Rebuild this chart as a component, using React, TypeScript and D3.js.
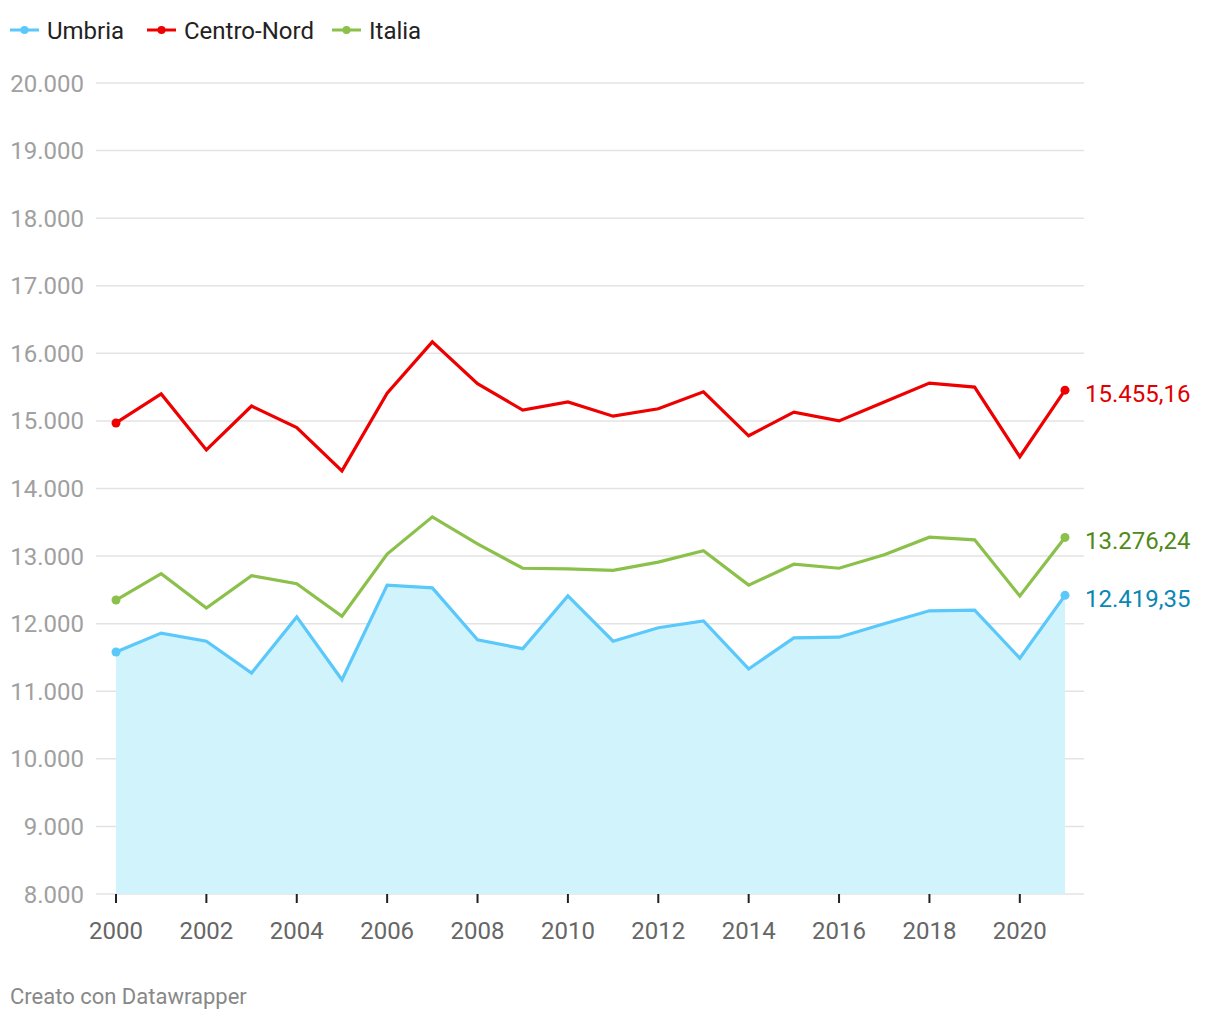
import React from "react";
import * as d3 from "d3";

const years = [2000,2001,2002,2003,2004,2005,2006,2007,2008,2009,2010,2011,2012,2013,2014,2015,2016,2017,2018,2019,2020,2021];
const umbria = [11580,11860,11740,11270,12100,11170,12570,12530,11760,11630,12410,11740,11940,12040,11330,11790,11800,12000,12190,12200,11490,12419.35];
const centroNord = [14970,15400,14570,15220,14900,14260,15410,16170,15550,15160,15280,15070,15180,15430,14780,15130,15000,15280,15560,15500,14470,15455.16];
const italia = [12350,12740,12230,12710,12590,12110,13030,13580,13180,12820,12810,12790,12910,13080,12570,12880,12820,13020,13280,13240,12410,13276.24];
const yTicks = [8000,9000,10000,11000,12000,13000,14000,15000,16000,17000,18000,19000,20000];
const xTicks = [2000,2002,2004,2006,2008,2010,2012,2014,2016,2018,2020];

const series = [
  { name: "Umbria", values: umbria, color: "#5ac8fa", label: "#0a87b5" },
  { name: "Centro-Nord", values: centroNord, color: "#ee0000", label: "#e00000" },
  { name: "Italia", values: italia, color: "#8bc14a", label: "#508a16" },
];

const fmt = (v: number) => d3.format(",.0f")(v).replace(/,/g, ".");
const fmtLabel = (v: number) => {
  const s = v.toFixed(2);
  const [i, d] = s.split(".");
  return i.replace(/\B(?=(\d{3})+(?!\d))/g, ".") + "," + d;
};

export default function App() {
  const W = 1220, H = 1020;
  const x = d3.scaleLinear().domain([2000, 2021]).range([116, 1065]);
  const y = d3.scaleLinear().domain([8000, 20000]).range([894, 83]);
  const font = "Roboto, 'Noto Sans', sans-serif";
  const line = (vals: number[]) =>
    d3.line<number>().x((_, i) => x(years[i])).y((v) => y(v))(vals) || "";
  const area = d3.area<number>().x((_, i) => x(years[i])).y0(y(8000)).y1((v) => y(v))(umbria) || "";
  const legendX = [10, 147, 332];

  return (
    <svg width={W} height={H} style={{ position: "absolute", left: 0, top: 0, fontFamily: font }}>
      <rect width={W} height={H} fill="#fff" />
      {series.map((s, i) => (
        <g key={s.name} transform={`translate(${legendX[i]},30)`}>
          <line x1={0} x2={29} y1={0} y2={0} stroke={s.color} strokeWidth={3} />
          <circle cx={14.5} cy={0} r={4} fill={s.color} />
          <text x={37} y={8.5} fontSize={24} fill="#222">{s.name}</text>
        </g>
      ))}
      {yTicks.map((t) => (
        <g key={t}>
          <line x1={96} x2={1084} y1={y(t)} y2={y(t)} stroke="#e3e3e3" strokeWidth={1.5} />
          <text x={84} y={y(t) + 8.5} textAnchor="end" fontSize={24} fill="#a0a0a0">{fmt(t)}</text>
        </g>
      ))}
      <path d={area} fill="#d1f3fc" />
      {[...series].reverse().map((s) => (
        <g key={s.name}>
          <path d={line(s.values)} fill="none" stroke={s.color} strokeWidth={3.2} strokeLinejoin="miter" />
          <circle cx={x(2000)} cy={y(s.values[0])} r={4.5} fill={s.color} />
          <circle cx={x(2021)} cy={y(s.values[21])} r={4.5} fill={s.color} />
          <text x={1085} y={y(s.values[21]) + 11.5} fontSize={24} fill={s.label}>{fmtLabel(s.values[21])}</text>
        </g>
      ))}
      {xTicks.map((t) => (
        <g key={t}>
          <line x1={x(t)} x2={x(t)} y1={894} y2={903} stroke="#222" strokeWidth={2} />
          <text x={x(t)} y={939} textAnchor="middle" fontSize={24} fill="#666">{t}</text>
        </g>
      ))}
      <text x={10} y={1004} fontSize={22} fill="#888">Creato con Datawrapper</text>
    </svg>
  );
}
